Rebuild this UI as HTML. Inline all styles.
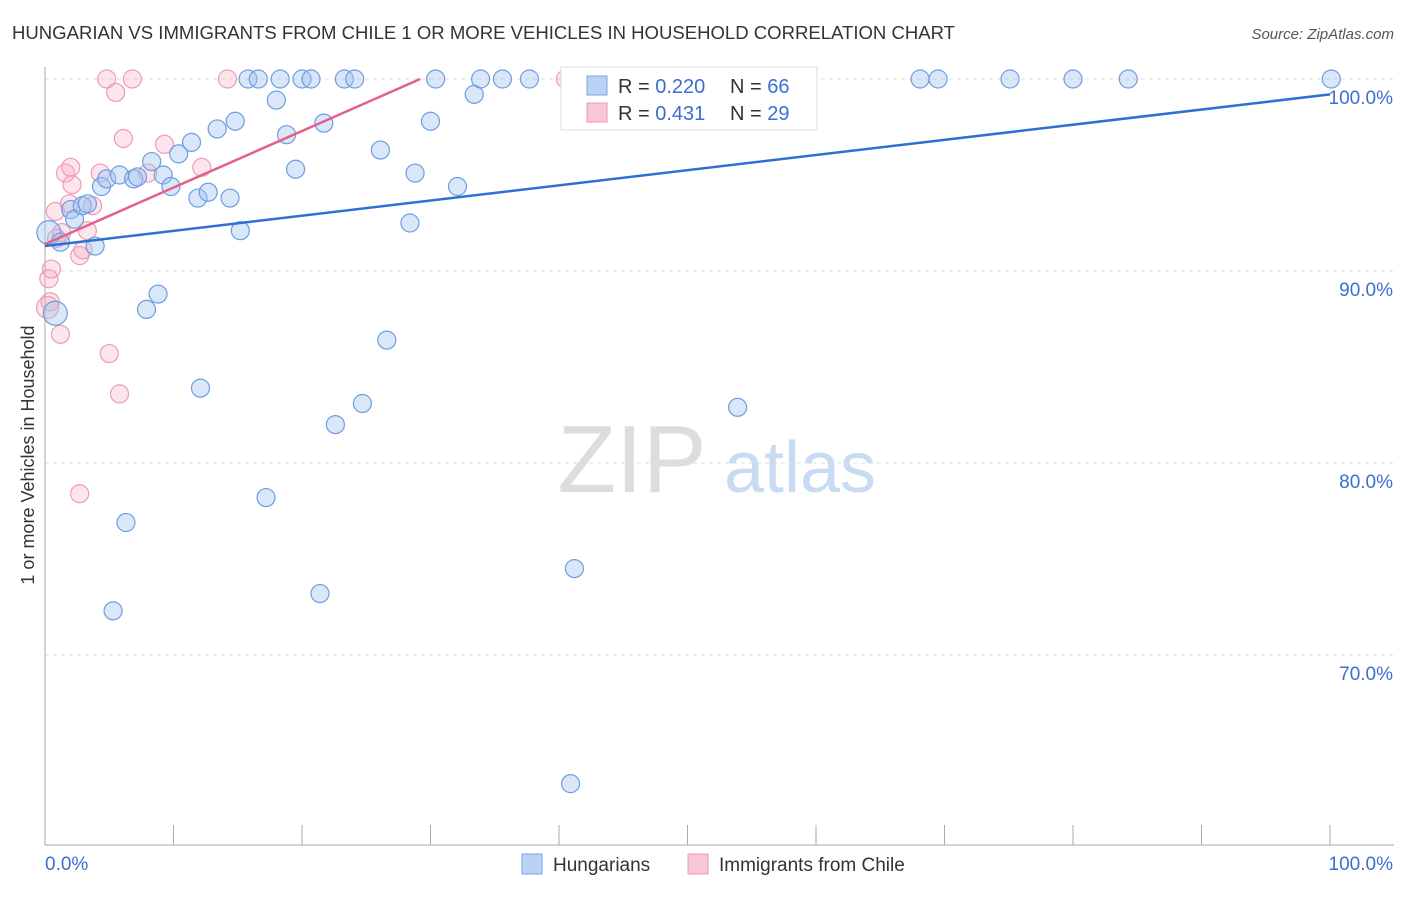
<!DOCTYPE html>
<html><head><meta charset="utf-8"><style>
body{margin:0;background:#fff;font-family:"Liberation Sans",sans-serif;}
svg text{font-family:"Liberation Sans",sans-serif;}
</style></head><body>
<svg width="1406" height="892" viewBox="0 0 1406 892">
<text x="12" y="39" font-size="18" fill="#333" textLength="943" lengthAdjust="spacingAndGlyphs">HUNGARIAN VS IMMIGRANTS FROM CHILE 1 OR MORE VEHICLES IN HOUSEHOLD CORRELATION CHART</text>
<text x="1394" y="39" font-size="15" fill="#555" text-anchor="end" font-style="italic">Source: ZipAtlas.com</text>
<text x="632" y="492" font-size="96" fill="#ddd" font-family="Liberation Serif" text-anchor="middle">ZIP</text>
<text x="800" y="492" font-size="72" fill="#c9daf3" text-anchor="middle">atlas</text>
<g id="grid"></g>
<g id="axes"></g>
<g id="pts"></g>
<g id="lines"></g>
<text x="34" y="455" font-size="18" fill="#333" text-anchor="middle" transform="rotate(-90 34 455)">1 or more Vehicles in Household</text>
<g>
<rect x="561" y="67" width="256" height="63" fill="#fff" stroke="#ddd"/>
<rect x="587" y="76" width="20" height="19" fill="#b9d3f5" stroke="#7aa5e0"/>
<rect x="587" y="103" width="20" height="19" fill="#f9c7d5" stroke="#ee99b0"/>
<text x="618" y="93" font-size="20" fill="#333">R = <tspan fill="#3a6fd0">0.220</tspan></text>
<text x="730" y="93" font-size="20" fill="#333">N = <tspan fill="#3a6fd0">66</tspan></text>
<text x="618" y="120" font-size="20" fill="#333">R = <tspan fill="#3a6fd0"> 0.431</tspan></text>
<text x="730" y="120" font-size="20" fill="#333">N = <tspan fill="#3a6fd0">29</tspan></text>
</g>
<g>
<rect x="522" y="854" width="20" height="20" fill="#b9d3f5" stroke="#7aa5e0"/>
<text x="553" y="871" font-size="19" fill="#333">Hungarians</text>
<rect x="688" y="854" width="20" height="20" fill="#f9c7d5" stroke="#ee99b0"/>
<text x="719" y="871" font-size="19" fill="#333">Immigrants from Chile</text>
</g>
</svg>
<script>
const yTicks=[100,90,80,70];
const yTickLabels=["100.0%","90.0%","80.0%","70.0%"];
const blueX=[0.3,0.8,1.2,2.0,2.3,2.9,3.3,3.9,4.4,4.8,5.3,5.8,6.3,6.9,7.2,7.9,8.3,8.8,9.2,9.8,10.4,11.4,11.9,12.1,12.7,13.4,14.4,14.8,15.2,15.8,16.6,17.2,18.0,18.3,18.8,19.5,20.0,20.7,21.4,21.7,22.6,23.3,24.1,24.7,26.1,26.6,28.4,28.8,30.0,30.4,32.1,33.4,33.9,35.6,37.7,40.9,41.2,53.9,56.8,68.1,69.5,75.1,80.0,84.3,100.1,51.0];
const blueY=[92.0,87.8,91.5,93.2,92.7,93.4,93.5,91.3,94.4,94.8,72.3,95.0,76.9,94.8,94.9,88.0,95.7,88.8,95.0,94.4,96.1,96.7,93.8,83.9,94.1,97.4,93.8,97.8,92.1,100,100,78.2,98.9,100,97.1,95.3,100,100,73.2,97.7,82.0,100,100,83.1,96.3,86.4,92.5,95.1,97.8,100,94.4,99.2,100,100,100,63.3,74.5,82.9,100,100,100,100,100,100,100,100];
const pinkX=[0.2,0.3,0.5,0.8,1.2,1.3,1.6,1.9,2.0,2.1,2.7,2.7,2.96,3.3,3.7,4.3,4.8,5.0,5.5,5.8,6.1,6.8,8.0,9.3,12.2,14.2,40.5,0.4,0.9];
const pinkY=[88.1,89.6,90.1,93.1,86.7,92.0,95.1,93.5,95.4,94.5,78.4,90.8,91.1,92.1,93.4,95.1,100,85.7,99.3,83.6,96.9,100,95.1,96.6,95.4,100,100,88.4,91.7];
const blueLine=[[0,91.3],[100,99.2]];
const pinkLine=[[0,91.4],[29.2,100]];
const X=v=>45+v*12.85, Y=v=>79+(100-v)*19.2;
const ns="http://www.w3.org/2000/svg";
function mk(p,t,a){const e=document.createElementNS(ns,t);for(const k in a)e.setAttribute(k,a[k]);document.getElementById(p).appendChild(e);return e;}
yTicks.forEach((t,i)=>{
 const g=mk('grid','line',{x1:45,x2:1394,y1:Y(t),y2:Y(t),stroke:'#ddd','stroke-dasharray':'4,4'});
 
 
 const l=mk('axes','text',{x:1393,y:Y(t)+25,'font-size':19,fill:'#3a6fd0','text-anchor':'end'});
 l.textContent=yTickLabels[i];
 
 
});
const ax=mk('axes','line',{x1:45,x2:45,y1:67,y2:845,stroke:'#aaa'});


const bx=mk('axes','line',{x1:45,x2:1394,y1:845,y2:845,stroke:'#aaa'});


for(let i=0;i<=10;i++){const tk=mk('axes','line',{x1:X(i*10),x2:X(i*10),y1:825,y2:845,stroke:'#aaa'});
 
 }
const x0=mk('axes','text',{x:45,y:870,'font-size':19,fill:'#3a6fd0'});x0.textContent='0.0%';


const x1=mk('axes','text',{x:1393,y:870,'font-size':19,fill:'#3a6fd0','text-anchor':'end'});x1.textContent='100.0%';


pinkX.forEach((v,i)=>{const r=(i==0)?11:9;const c=mk('pts','circle',{cx:X(v),cy:Y(pinkY[i]),r:r,fill:'rgba(246,170,192,0.3)',stroke:'#ef9bb3','stroke-width':1.2});
 
 });
blueX.forEach((v,i)=>{const r=(i<2)?12:9;const c=mk('pts','circle',{cx:X(v),cy:Y(blueY[i]),r:r,fill:'rgba(160,196,240,0.4)',stroke:'#6d9de0','stroke-width':1.2});
 
 });
const bl=mk('lines','line',{x1:X(blueLine[0][0]),y1:Y(blueLine[0][1]),x2:X(blueLine[1][0]),y2:Y(blueLine[1][1]),stroke:'#2f6fd1','stroke-width':2.5});


const pl=mk('lines','line',{x1:X(pinkLine[0][0]),y1:Y(pinkLine[0][1]),x2:X(pinkLine[1][0]),y2:Y(pinkLine[1][1]),stroke:'#e4608a','stroke-width':2.5});


</script>
</body></html>
